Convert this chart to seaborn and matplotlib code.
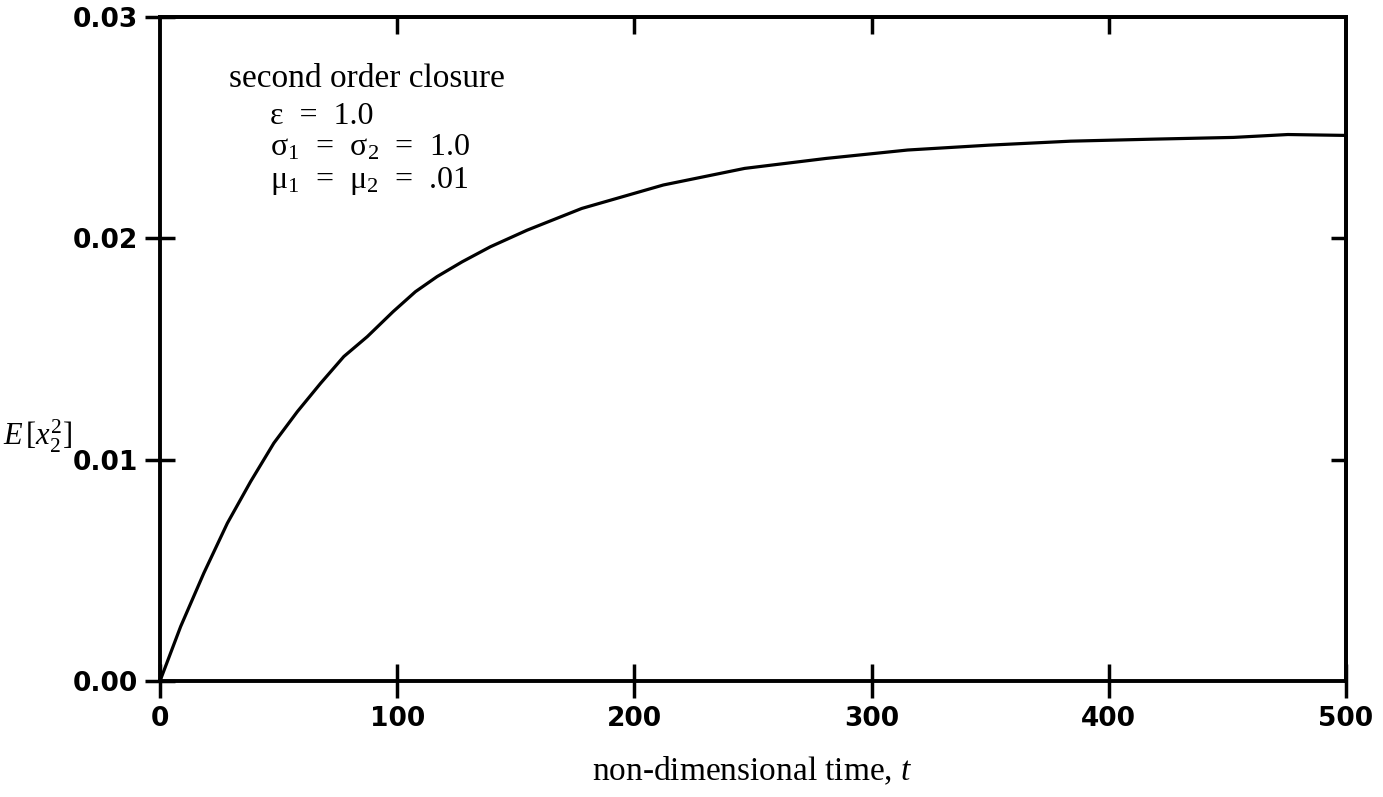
import matplotlib
matplotlib.use("Agg")
import matplotlib.pyplot as plt
import seaborn as sns
import pandas as pd

# Second-order closure response E[x2^2] versus non-dimensional time
time_t = [0, 8.7, 18.5, 28.4, 38.2, 48.0, 57.9, 67.7, 77.5, 87.4, 98.3,
          107.7, 116.8, 127.4, 139.3, 154.8, 177.8, 212.2, 246.5, 280.8,
          315.2, 349.5, 383.9, 418.2, 452.6, 475.5, 500]
mean_sq_x2 = [0.0, 0.00246, 0.00488, 0.00713, 0.00901, 0.01075, 0.01217,
              0.01345, 0.01466, 0.01556, 0.01669, 0.01759, 0.01827, 0.01894,
              0.01962, 0.02037, 0.02135, 0.02241, 0.02316, 0.02361, 0.02399,
              0.02421, 0.02439, 0.02448, 0.02456, 0.02469, 0.02465]

x_ticks = [0, 100, 200, 300, 400, 500]
y_ticks = [0.00, 0.01, 0.02, 0.03]
y_tick_labels = ["0.00", "0.01", "0.02", "0.03"]

annotation_lines = [
    "second order closure",
    "ε  =  1.0",
    "σ$_1$  =  σ$_2$  =  1.0",
    "μ$_1$  =  μ$_2$  =  .01",
]

sns.set_style("ticks")
plt.rcParams["font.family"] = ["DejaVu Sans"]
plt.rcParams["mathtext.fontset"] = "custom"
plt.rcParams["mathtext.rm"] = "Liberation Serif"
plt.rcParams["mathtext.it"] = "Liberation Serif:italic"
plt.rcParams["mathtext.bf"] = "Liberation Serif:bold"

df = pd.DataFrame({"t": time_t, "E": mean_sq_x2})

fig = plt.figure(figsize=(13.83, 7.97), dpi=100)
ax = fig.add_axes([160 / 1383, 1 - 681 / 797, (1346 - 160) / 1383, (681 - 17) / 797])

sns.lineplot(data=df, x="t", y="E", ax=ax, color="black", linewidth=2.3)

ax.set_xlim(0, 500)
ax.set_ylim(0, 0.03)
ax.set_xticks(x_ticks)
ax.set_xticklabels([str(v) for v in x_ticks])
ax.set_yticks(y_ticks)
ax.set_yticklabels(y_tick_labels)
ax.set_xlabel("")
ax.set_ylabel("")

for sp in ax.spines.values():
    sp.set_visible(True)
    sp.set_linewidth(2.8)
    sp.set_color("black")

ax.tick_params(axis="x", direction="inout", length=24, width=2.5, pad=6,
               colors="black", labelsize=19)
ax.tick_params(axis="y", direction="inout", length=22, width=2.5, pad=5,
               colors="black", labelsize=19)
for lab in ax.get_xticklabels() + ax.get_yticklabels():
    lab.set_fontweight("bold")

# Inward ticks along the top and right edges
top = ax.secondary_xaxis("top")
top.set_xticks(x_ticks[1:-1])
top.tick_params(direction="in", length=12, width=2.5, labeltop=False, colors="black")
top.spines["top"].set_linewidth(2.8)
right = ax.secondary_yaxis("right")
right.set_yticks(y_ticks[1:-1])
right.tick_params(direction="in", length=11, width=2.5, labelright=False, colors="black")
right.spines["right"].set_linewidth(2.8)

serif = ["Liberation Serif", "DejaVu Serif"]

# Parameter block
fig.text(229 / 1383, 1 - 87 / 797, annotation_lines[0], family=serif,
         fontsize=24, ha="left", va="baseline", color="black")
for i, line in enumerate(annotation_lines[1:]):
    y_px = [124, 156, 188][i]
    fig.text(270 / 1383, 1 - y_px / 797, line, family=serif,
             fontsize=23, ha="left", va="baseline", color="black")

# Axis titles
fig.text(3 / 1383, 1 - 446 / 797, r"$E\,[x_2^2]$", fontsize=22,
         ha="left", va="baseline", color="black")
fig.text(752 / 1383, 1 - 780 / 797, "non-dimensional time, $t$",
         family=serif, fontsize=24, ha="center", va="baseline", color="black")

fig.savefig("out.png", dpi=100, facecolor="white")
